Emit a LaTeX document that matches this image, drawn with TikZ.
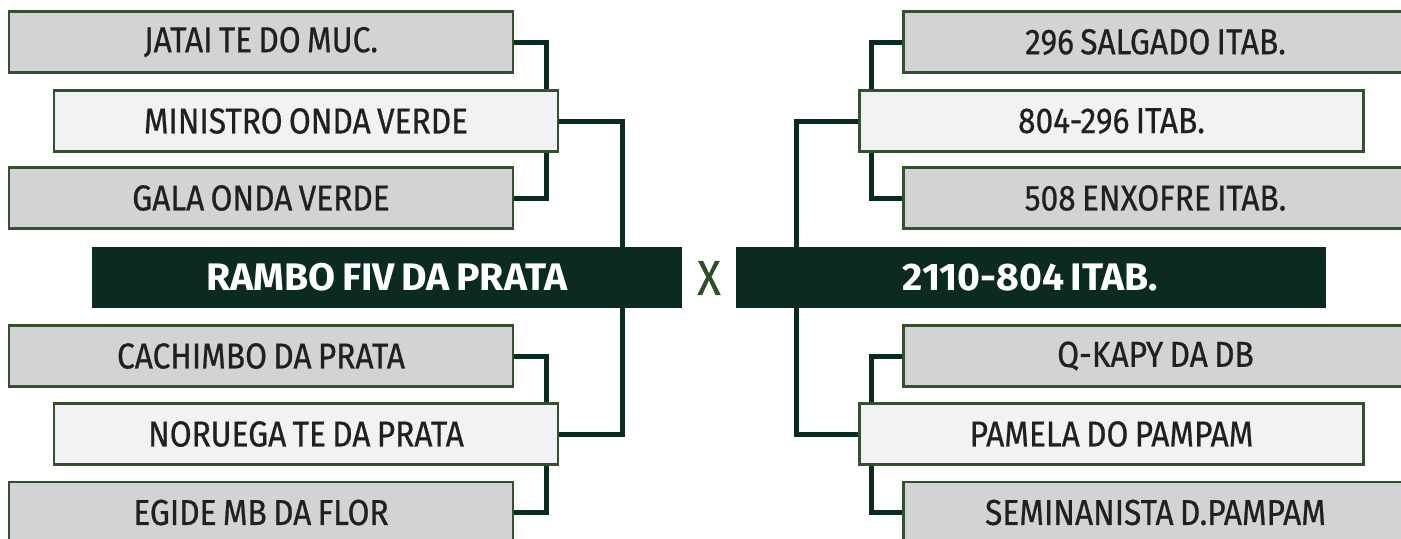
\documentclass[tikz,border=0pt]{standalone}
\usepackage{xcolor}
\usepackage{fontspec}
\setmainfont{Fira Sans}[FakeStretch=0.88,WordSpace=0.75,UprightFeatures={FakeBold=0.6}]
\newfontfamily\headfont{Fira Sans}[FakeStretch=1.02,WordSpace=0.7]
\usetikzlibrary{calc,backgrounds}

\definecolor{boxgray}{HTML}{D1D3D4}
\definecolor{boxlight}{HTML}{F1F2F3}
\definecolor{boxline}{HTML}{34502E}
\definecolor{darkgreen}{HTML}{0A2B1E}
\definecolor{xgreen}{HTML}{2E4F26}
\definecolor{txtgray}{HTML}{231F20}

\begin{document}
\begin{tikzpicture}[x=0.5pt,y=-0.5pt,
    horse/.style={draw=boxline,line width=1.3pt,minimum width=252pt,minimum height=30.5pt,
      inner sep=0pt,text=txtgray,font=\fontsize{18}{20}\selectfont},
    grayhorse/.style={horse,fill=boxgray},
    lighthorse/.style={horse,fill=boxlight},
    mainhorse/.style={fill=darkgreen,minimum width=295pt,minimum height=30.5pt,inner sep=0pt,
      text=white,font=\fontsize{19.2}{21}\headfont\bfseries},
    wire/.style={draw=darkgreen,line width=2.5pt}]
  \useasboundingbox (0,0) rectangle (1401,538);
  \clip (0,0) rectangle (1401,538);

  % left side
  \node[grayhorse]  (jatai)    at (261,42)    {JATAI TE DO MUC.};
  \node[lighthorse] (ministro) at (306,121)   {MINISTRO ONDA VERDE};
  \node[grayhorse]  (gala)     at (261,198)   {GALA ONDA VERDE};
  \node[mainhorse]  (rambo)    at (387,277.5) {RAMBO FIV DA PRATA};
  \node[grayhorse]  (cachimbo) at (261,356)   {CACHIMBO DA PRATA};
  \node[lighthorse] (noruega)  at (306,434)   {NORUEGA TE DA PRATA};
  \node[grayhorse]  (egide)    at (261,512.5) {EGIDE MB DA FLOR};

  \node[text=xgreen,font=\fontsize{24.5}{26}\selectfont] (versus) at (709,278) {X};

  % right side
  \node[grayhorse]  (salgado)  at (1155.5,42)    {296 SALGADO ITAB.};
  \node[lighthorse] (itab)     at (1111.5,121)   {804-296 ITAB.};
  \node[grayhorse]  (enxofre)  at (1155.5,198)   {508 ENXOFRE ITAB.};
  \node[mainhorse]  (final)    at (1030.5,277.5) {2110-804 ITAB.};
  \node[grayhorse]  (qkapy)    at (1155.5,356)   {Q-KAPY DA DB};
  \node[lighthorse] (pamela)   at (1111.5,434)   {PAMELA DO PAMPAM};
  \node[grayhorse]  (semin)    at (1155.5,512.5) {SEMINANISTA D.PAMPAM};

  \begin{scope}[on background layer]
    \draw[wire] (jatai.east) -- ++(32,0) |- (gala.east);
    \draw[wire] (cachimbo.east) -- ++(32,0) |- (egide.east);
    \draw[wire] (ministro.east) -| ($(rambo.north east)+(-60,0)$);
    \draw[wire] (noruega.east) -| ($(rambo.south east)+(-60,0)$);

    \draw[wire] (salgado.west) -- ++(-31,0) |- (enxofre.west);
    \draw[wire] (qkapy.west) -- ++(-31,0) |- (semin.west);
    \draw[wire] (itab.west) -| ($(final.north west)+(61,0)$);
    \draw[wire] (pamela.west) -| ($(final.south west)+(61,0)$);
  \end{scope}
\end{tikzpicture}
\end{document}
